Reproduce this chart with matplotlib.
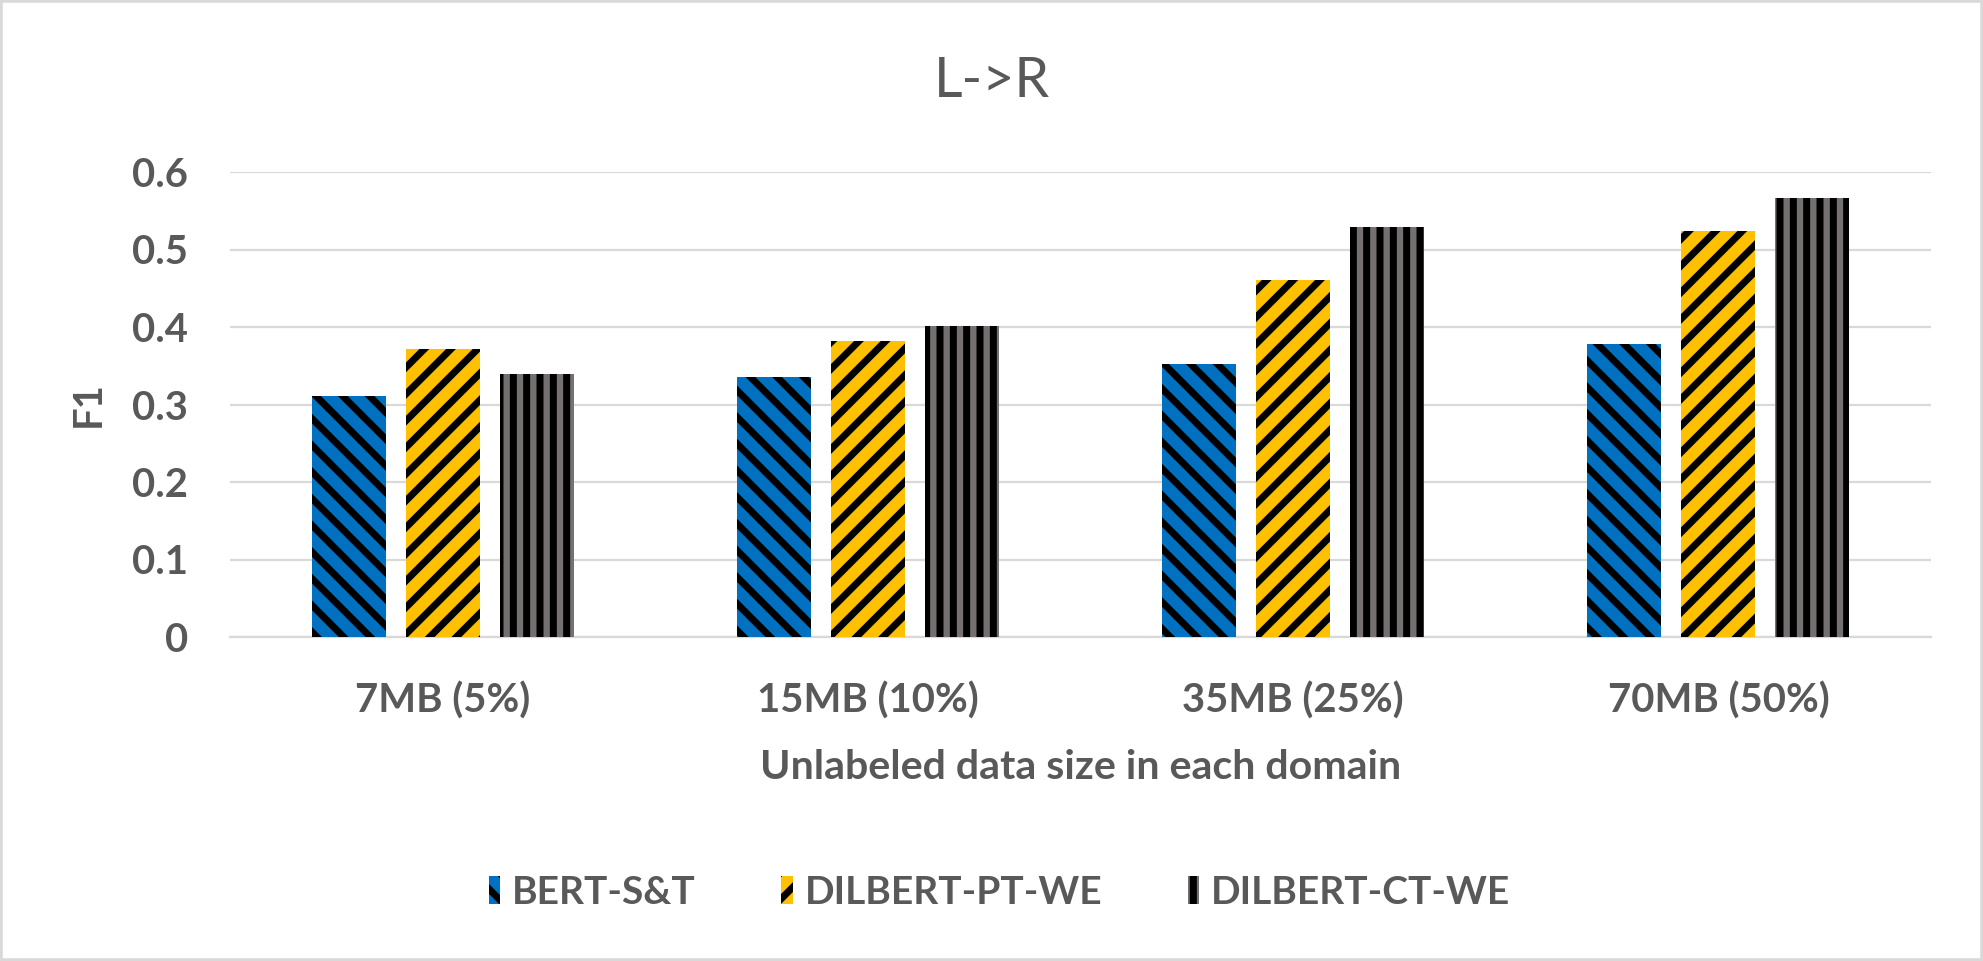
import matplotlib
matplotlib.use("Agg")
import matplotlib.pyplot as plt
import matplotlib.patches as mpatches
import numpy as np

categories = ["7MB (5%)", "15MB (10%)", "35MB (25%)", "70MB (50%)"]
series_names = ["BERT-S&T", "DILBERT-PT-WE", "DILBERT-CT-WE"]
bert_st = [0.311, 0.335, 0.352, 0.378]
dilbert_pt = [0.372, 0.382, 0.461, 0.524]
dilbert_ct = [0.340, 0.401, 0.529, 0.566]
yticks = [0, 0.1, 0.2, 0.3, 0.4, 0.5, 0.6]
ytick_labels = ["0", "0.1", "0.2", "0.3", "0.4", "0.5", "0.6"]

colors = ["#0070C0", "#FFC000", "#767171"]
hatches = ["\\", "/", "|"]
text_color = "#595959"
grid_color = "#D9D9D9"

plt.rcParams["font.family"] = ["Lato", "DejaVu Sans"]
plt.rcParams["hatch.linewidth"] = 6.3

DPI = 80
fig = plt.figure(figsize=(1983 / DPI, 961 / DPI), dpi=DPI)
ax = fig.add_axes([230 / 1983, 1 - 637 / 961, (1931 - 230) / 1983, (637 - 172) / 961])

x = np.arange(len(categories))
step = 0.221
width = 0.174
all_series = [bert_st, dilbert_pt, dilbert_ct]
for i, (vals, name) in enumerate(zip(all_series, series_names)):
    ax.bar(x + (i - 1) * step, vals, width, color=colors[i], hatch=hatches[i],
           edgecolor="black", linewidth=0, label=name, zorder=3)

ax.set_xlim(-0.5, len(categories) - 0.5)
ax.set_ylim(0, 0.6)
ax.set_yticks(yticks)
ax.set_yticklabels(ytick_labels)
ax.set_xticks(x)
ax.set_xticklabels(categories)

for s in ["top", "right", "left"]:
    ax.spines[s].set_visible(False)
ax.spines["bottom"].set_color(grid_color)
ax.spines["bottom"].set_linewidth(2)
ax.spines["bottom"].set_zorder(2)
ax.yaxis.grid(True, color=grid_color, linewidth=2, zorder=0)
ax.set_axisbelow(True)

ax.tick_params(axis="both", length=0, labelsize=36, labelcolor=text_color)
ax.tick_params(axis="x", pad=40)
ax.tick_params(axis="y", pad=38)
for lab in ax.get_xticklabels() + ax.get_yticklabels():
    lab.set_fontweight("bold")

ax.set_ylabel("F1", fontsize=36, fontweight="bold", color=text_color, va="center")
ax.yaxis.set_label_coords((88 - 230) / 1701, 0.5)
ax.set_xlabel("Unlabeled data size in each domain", fontsize=37, fontweight="bold",
              color=text_color, va="baseline")
ax.xaxis.set_label_coords(0.5, (637 - 779) / 465)

fig.text(0.5, 1 - 97 / 961, "L->R", ha="center", va="baseline", fontsize=50,
         color=text_color)

leg = fig.legend(loc="center", bbox_to_anchor=(0.504, 1 - 892 / 961), ncol=3,
                 frameon=False, fontsize=35, handlelength=0.3, handleheight=0.7,
                 handletextpad=0.3, columnspacing=2.2)
for t in leg.get_texts():
    t.set_color(text_color)
    t.set_fontweight("bold")

fig.patches.append(mpatches.Rectangle((0, 0), 1, 1, transform=fig.transFigure,
                                      fill=False, edgecolor=grid_color, linewidth=5))

fig.savefig("out.png", dpi=DPI, facecolor="white")
